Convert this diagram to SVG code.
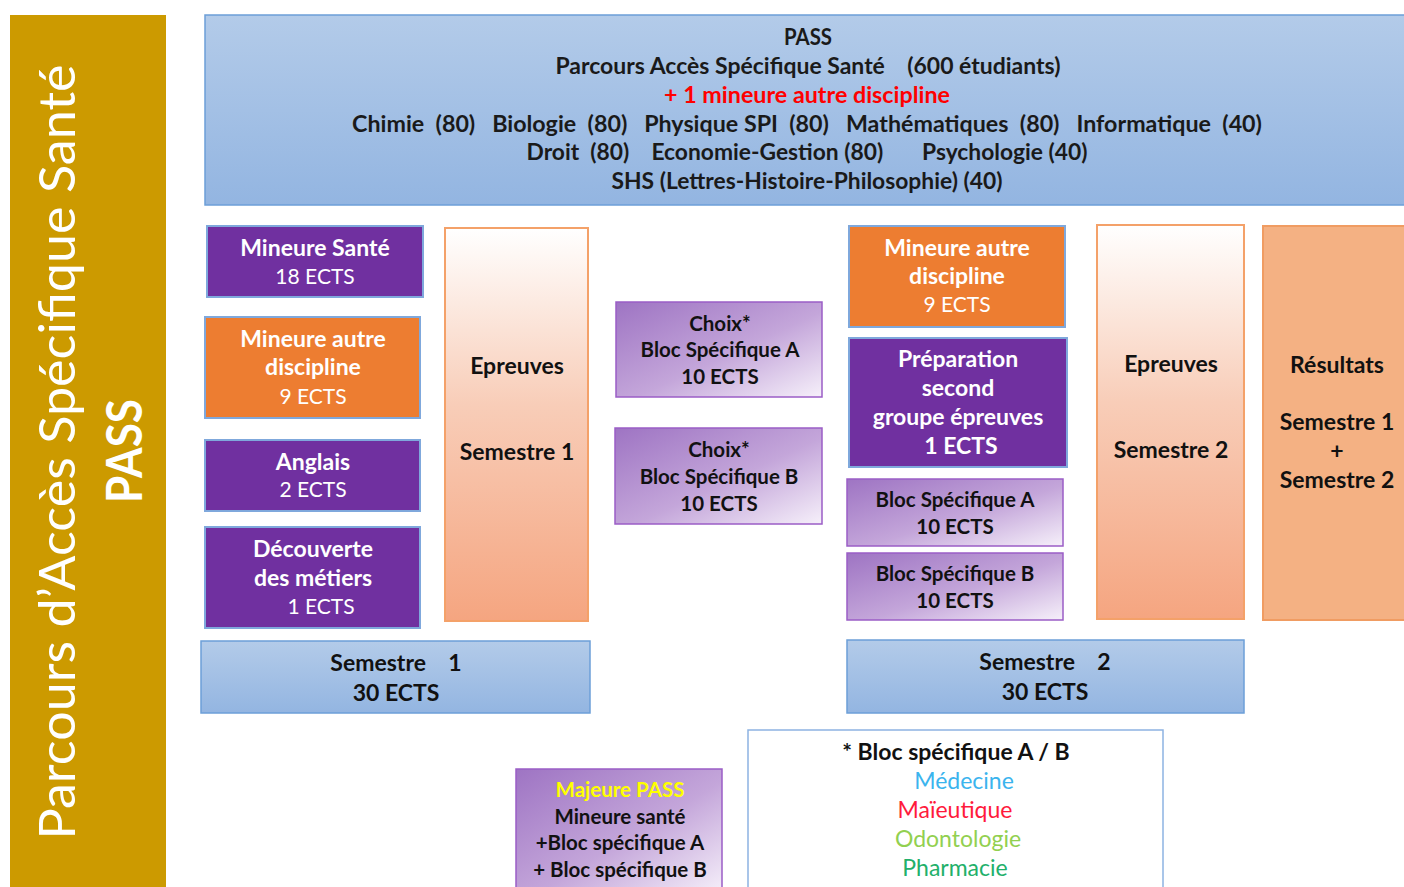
<svg xmlns="http://www.w3.org/2000/svg" width="1404" height="887" viewBox="0 0 1404 887">
<defs>
<linearGradient id="gBlue" x1="0" y1="0" x2="0" y2="1">
<stop offset="0" stop-color="#B3CBE9"/><stop offset="1" stop-color="#93B5E1"/>
</linearGradient>
<linearGradient id="gEp" x1="0" y1="0" x2="0" y2="1">
<stop offset="0" stop-color="#FFFFFF"/><stop offset="0.45" stop-color="#F8CDB8"/><stop offset="1" stop-color="#F5A580"/>
</linearGradient>
<linearGradient id="gLav" x1="0" y1="0" x2="1" y2="1">
<stop offset="0" stop-color="#9E74C3"/><stop offset="0.55" stop-color="#C4A6DA"/><stop offset="1" stop-color="#F6F0FA"/>
</linearGradient>
<style>
text{font-family:Lato,"Liberation Sans",sans-serif;text-anchor:middle}
.blue{fill:url(#gBlue);stroke:#6C9FD8;stroke-width:1.5}
.pur{fill:#7030A0;stroke:#7FA8DC;stroke-width:2}
.ora{fill:#ED7D31;stroke:#7FA8DC;stroke-width:2}
.ep{fill:url(#gEp);stroke:#F4A169;stroke-width:2}
.res{fill:#F4B183;stroke:#F09C62;stroke-width:2}
.lav{fill:url(#gLav);stroke:#9B5DC6;stroke-width:1.5}
.leg{fill:#FFFFFF;stroke:#8DB3E2;stroke-width:1.5}
.tb{font-size:22px;fill:#1A1A1A;font-weight:bold}
.wb{font-size:23px;fill:#FFFFFF;font-weight:bold}
.wr{font-size:21px;fill:#FFFFFF}
.kb{font-size:23px;fill:#111111;font-weight:bold}
.ks{font-size:20.5px;fill:#111111;font-weight:bold}
.lg{font-size:23px}
</style>
</defs>
<g id="connectors"/>
<g id="side-title">
<rect x="10" y="15" width="156" height="872" fill="#CC9A00"/>
<text transform="rotate(-90)" x="-452" y="75" font-size="50" fill="#FFFFFF" textLength="775" lengthAdjust="spacingAndGlyphs">Parcours d’Accès Spécifique Santé</text>
<text transform="rotate(-90)" x="-451" y="142" font-size="50" fill="#FFFFFF" font-weight="bold" textLength="104" lengthAdjust="spacingAndGlyphs">PASS</text>
</g>
<g id="banner">
<rect class="blue" x="205" y="15" width="1210" height="190"/>
<text class="tb" x="808" y="45" font-weight="normal" textLength="48" lengthAdjust="spacingAndGlyphs">PASS</text>
<text class="tb" x="808" y="74" xml:space="preserve" textLength="505" lengthAdjust="spacingAndGlyphs">Parcours Accès Spécifique Santé    (600 étudiants)</text>
<text class="tb" x="807" y="103" style="fill:#FF0000" textLength="286" lengthAdjust="spacingAndGlyphs">+ 1 mineure autre discipline</text>
<text class="tb" x="807" y="132" xml:space="preserve" textLength="910" lengthAdjust="spacingAndGlyphs">Chimie  (80)   Biologie  (80)   Physique SPI  (80)   Mathématiques  (80)   Informatique  (40)</text>
<text class="tb" x="807" y="160" xml:space="preserve" textLength="561" lengthAdjust="spacingAndGlyphs">Droit  (80)    Economie-Gestion (80)       Psychologie (40)</text>
<text class="tb" x="807" y="189" textLength="391" lengthAdjust="spacingAndGlyphs">SHS (Lettres-Histoire-Philosophie) (40)</text>
</g>
<g id="mineure-sante">
<rect class="pur" x="207" y="226" width="216" height="71"/>
<text class="wb" x="315" y="256">Mineure Santé</text>
<text class="wr" x="315" y="284">18 ECTS</text>
</g>
<g id="mineure-autre-s1">
<rect class="ora" x="205" y="317" width="215" height="101"/>
<text class="wb" x="313" y="347">Mineure autre</text>
<text class="wb" x="313" y="375">discipline</text>
<text class="wr" x="313" y="404">9 ECTS</text>
</g>
<g id="anglais">
<rect class="pur" x="205" y="440" width="215" height="71"/>
<text class="wb" x="313" y="470">Anglais</text>
<text class="wr" x="313" y="497">2 ECTS</text>
</g>
<g id="decouverte">
<rect class="pur" x="205" y="527" width="215" height="101"/>
<text class="wb" x="313" y="557">Découverte</text>
<text class="wb" x="313" y="586">des métiers</text>
<text class="wr" x="321" y="614">1 ECTS</text>
</g>
<g id="epreuves-s1">
<rect class="ep" x="445" y="228" width="143" height="393"/>
<text class="kb" x="517" y="374">Epreuves</text>
<text class="kb" x="517" y="460">Semestre 1</text>
</g>
<g id="semestre-1">
<rect class="blue" x="201" y="641" width="389" height="72"/>
<text class="kb" x="396" y="671" xml:space="preserve">Semestre    1</text>
<text class="kb" x="396" y="701">30 ECTS</text>
</g>
<g id="choix-a">
<rect class="lav" x="616" y="302" width="206" height="95"/>
<text class="ks" x="720" y="331">Choix*</text>
<text class="ks" x="720" y="357">Bloc Spécifique A</text>
<text class="ks" x="720" y="384">10 ECTS</text>
</g>
<g id="choix-b">
<rect class="lav" x="615" y="428" width="207" height="96"/>
<text class="ks" x="719" y="457">Choix*</text>
<text class="ks" x="719" y="484">Bloc Spécifique B</text>
<text class="ks" x="719" y="511">10 ECTS</text>
</g>
<g id="mineure-autre-s2">
<rect class="ora" x="849" y="226" width="216" height="101"/>
<text class="wb" x="957" y="256">Mineure autre</text>
<text class="wb" x="957" y="284">discipline</text>
<text class="wr" x="957" y="312">9 ECTS</text>
</g>
<g id="preparation">
<rect class="pur" x="849" y="338" width="218" height="129"/>
<text class="wb" x="958" y="367">Préparation</text>
<text class="wb" x="958" y="396">second</text>
<text class="wb" x="958" y="425">groupe épreuves</text>
<text class="wb" x="961" y="454">1 ECTS</text>
</g>
<g id="bloc-a">
<rect class="lav" x="847" y="479" width="216" height="67"/>
<text class="ks" x="955" y="507">Bloc Spécifique A</text>
<text class="ks" x="955" y="534">10 ECTS</text>
</g>
<g id="bloc-b">
<rect class="lav" x="847" y="553" width="216" height="67"/>
<text class="ks" x="955" y="581">Bloc Spécifique B</text>
<text class="ks" x="955" y="608">10 ECTS</text>
</g>
<g id="epreuves-s2">
<rect class="ep" x="1097" y="225" width="147" height="394"/>
<text class="kb" x="1171" y="372">Epreuves</text>
<text class="kb" x="1171" y="458">Semestre 2</text>
</g>
<g id="resultats">
<rect class="res" x="1263" y="226" width="150" height="394"/>
<text class="kb" x="1337" y="373">Résultats</text>
<text class="kb" x="1337" y="430">Semestre 1</text>
<text class="kb" x="1337" y="459">+</text>
<text class="kb" x="1337" y="488">Semestre 2</text>
</g>
<g id="semestre-2">
<rect class="blue" x="847" y="640" width="397" height="73"/>
<text class="kb" x="1045" y="670" xml:space="preserve">Semestre    2</text>
<text class="kb" x="1045" y="700">30 ECTS</text>
</g>
<g id="majeure-pass">
<rect class="lav" x="516" y="769" width="206" height="125"/>
<text class="ks" x="620" y="797" style="fill:#FFFF00">Majeure PASS</text>
<text class="ks" x="620" y="824">Mineure santé</text>
<text class="ks" x="620" y="850">+Bloc spécifique A</text>
<text class="ks" x="620" y="877">+ Bloc spécifique B</text>
</g>
<g id="legende">
<rect class="leg" x="748" y="730" width="415" height="165"/>
<text class="lg" x="956" y="760" fill="#111111" font-weight="bold">* Bloc spécifique A / B</text>
<text class="lg" x="964" y="789" fill="#3BB4EE">Médecine</text>
<text class="lg" x="955" y="818" fill="#FF1A3C">Maïeutique</text>
<text class="lg" x="958" y="847" fill="#92D050">Odontologie</text>
<text class="lg" x="955" y="876" fill="#22B06A">Pharmacie</text>
</g>
</svg>
